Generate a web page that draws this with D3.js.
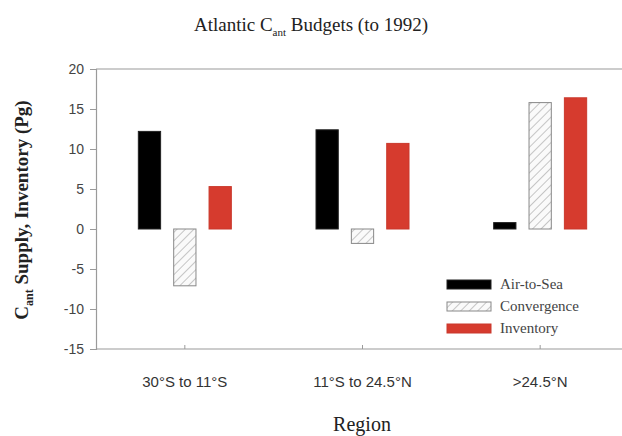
<!DOCTYPE html>
<meta charset="utf-8">
<script src="https://d3js.org/d3.v7.min.js"></script>
<style>
  body { margin: 0; background: #fff; }
</style>
<div id="my_dataviz"></div>
<script>
// data
var regions = ["30°S to 11°S", "11°S to 24.5°N", ">24.5°N"]
var series = ["Air-to-Sea", "Convergence", "Inventory"]
var airToSea = [12.2, 12.4, 0.8]
var convergence = [-7.1, -1.8, 15.8]
var inventory = [5.3, 10.7, 16.4]
var yTicks = [20, 15, 10, 5, 0, -5, -10, -15]

var width = 622, height = 436
var margin = {left: 96, top: 69, right: -7, bottom: 87}

var svg = d3.select("#my_dataviz").append("svg")
    .attr("width", width).attr("height", height)

var defs = svg.append("defs")
defs.append("pattern")
    .attr("id", "hatch")
    .attr("patternUnits", "userSpaceOnUse")
    .attr("width", 6).attr("height", 6)
    .attr("patternTransform", "rotate(45)")
  .call(function(p) {
    p.append("rect").attr("width", 6).attr("height", 6).attr("fill", "#fafafa")
    p.append("line").attr("x1", 0).attr("y1", 0).attr("x2", 0).attr("y2", 6)
      .attr("stroke", "#a8a8a8").attr("stroke-width", 1.3)
  })

var x = d3.scaleBand().domain(regions)
    .range([margin.left, width - margin.right])
var x1 = d3.scaleBand().domain(series)
    .range([-46.5, 46.5]).paddingInner(0.37).paddingOuter(0)
var y = d3.scaleLinear().domain([-15, 20])
    .range([height - margin.bottom, margin.top])

var fills = {"Air-to-Sea": "#000", "Convergence": "url(#hatch)", "Inventory": "#d63b2e"}
var strokes = {"Air-to-Sea": "#222", "Convergence": "#888", "Inventory": "#c9392c"}

// frame lines top and bottom
svg.append("line").attr("x1", margin.left).attr("x2", width)
    .attr("y1", y(20)).attr("y2", y(20)).attr("stroke", "#9a9a9a").attr("stroke-width", 1.2)
svg.append("line").attr("x1", margin.left).attr("x2", width)
    .attr("y1", y(-15)).attr("y2", y(-15)).attr("stroke", "#9a9a9a").attr("stroke-width", 1.2)

// y axis
var yAxis = svg.append("g")
    .attr("transform", "translate(" + margin.left + ",0)")
    .call(d3.axisLeft(y).tickValues(yTicks).tickSize(6).tickPadding(6)
      .tickFormat(function(d) { return String(d) }))
yAxis.select(".domain").attr("stroke", "#9a9a9a").attr("stroke-width", 1.2)
yAxis.selectAll(".tick line").attr("stroke", "#9a9a9a")
yAxis.selectAll("text").attr("font-family", "Liberation Sans, Arial, sans-serif")
    .attr("font-size", 14).attr("fill", "#444")

// x ticks (pointing up, inside)
var xAxis = svg.append("g")
    .attr("transform", "translate(0," + y(-15) + ")")
    .call(d3.axisTop(x).tickSize(4).tickFormat(""))
xAxis.select(".domain").remove()
xAxis.selectAll(".tick line").attr("stroke", "#9a9a9a")

svg.selectAll(".xlab").data(regions).enter().append("text")
    .attr("x", function(d) { return x(d) + x.bandwidth() / 2 })
    .attr("y", 387)
    .attr("text-anchor", "middle")
    .attr("font-family", "Liberation Sans, Arial, sans-serif")
    .attr("font-size", 15).attr("fill", "#333")
    .text(function(d) { return d })

// bars
var rows = regions.map(function(r, i) {
  return {region: r, values: [
    {key: "Air-to-Sea", value: airToSea[i]},
    {key: "Convergence", value: convergence[i]},
    {key: "Inventory", value: inventory[i]}]}
})

svg.selectAll(".grp").data(rows).enter().append("g")
    .attr("transform", function(d) { return "translate(" + (x(d.region) + x.bandwidth() / 2) + ",0)" })
  .selectAll("rect").data(function(d) { return d.values }).enter().append("rect")
    .attr("x", function(d) { return x1(d.key) })
    .attr("width", x1.bandwidth())
    .attr("y", function(d) { return y(Math.max(0, d.value)) })
    .attr("height", function(d) { return Math.abs(y(d.value) - y(0)) })
    .attr("fill", function(d) { return fills[d.key] })
    .attr("stroke", function(d) { return strokes[d.key] })
    .attr("stroke-width", 1)

// legend
var legend = svg.append("g").attr("transform", "translate(447,285)")
series.forEach(function(s, i) {
  var g = legend.append("g").attr("transform", "translate(0," + i * 22 + ")")
  g.append("rect").attr("x", 0).attr("y", -5).attr("width", 44).attr("height", 9)
    .attr("fill", fills[s]).attr("stroke", strokes[s])
  g.append("text").attr("x", 53).attr("y", 4)
    .attr("font-family", "'Liberation Serif', 'Times New Roman', serif")
    .attr("font-size", 15).attr("fill", "#444")
    .text(s)
})

// title
var title = svg.append("text").attr("x", 311).attr("y", 31)
    .attr("text-anchor", "middle")
    .attr("font-family", "'Liberation Serif', 'Times New Roman', serif")
    .attr("font-size", 19).attr("fill", "#222")
title.append("tspan").text("Atlantic C")
title.append("tspan").attr("font-size", 11).attr("dy", 5).text("ant")
title.append("tspan").attr("dy", -5).text(" Budgets (to 1992)")

// y title
var ytitle = svg.append("text")
    .attr("transform", "translate(28,210) rotate(-90)")
    .attr("text-anchor", "middle")
    .attr("font-family", "'Liberation Serif', 'Times New Roman', serif")
    .attr("font-weight", "bold")
    .attr("font-size", 19).attr("fill", "#222")
ytitle.append("tspan").text("C")
ytitle.append("tspan").attr("font-size", 12).attr("dy", 5).text("ant")
ytitle.append("tspan").attr("dy", -5).text(" Supply, Inventory (Pg)")

// x title
svg.append("text").attr("x", 362).attr("y", 431)
    .attr("text-anchor", "middle")
    .attr("font-family", "'Liberation Serif', 'Times New Roman', serif")
    .attr("font-size", 20).attr("fill", "#222")
    .text("Region")
</script>
